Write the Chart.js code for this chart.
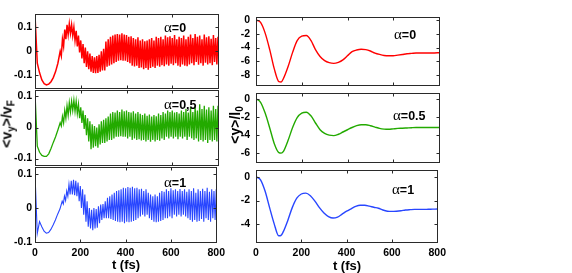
<!DOCTYPE html>
<html><head><meta charset="utf-8">
<script src="https://cdn.jsdelivr.net/npm/chart.js@4.4.1/dist/chart.umd.min.js"></script>
<style>
body{margin:0;background:#fff;width:572px;height:273px;overflow:hidden;position:relative;font-family:'Liberation Sans',Arial,sans-serif}
canvas{position:absolute}
.t{position:absolute;font-weight:bold;white-space:nowrap;line-height:1;color:#000;transform:translate(-50%,-50%)}
.rot{transform:translate(-50%,-50%) rotate(-90deg)}
.rot sub{font-size:10px;vertical-align:-3px}
.lab{position:absolute;white-space:nowrap;line-height:1;color:#000;font-weight:bold;font-size:12.5px;transform:translateY(-50%)}
.al{font-family:'Liberation Serif','DejaVu Serif',serif;font-weight:normal;font-size:15px}
</style></head><body>
<canvas id="lt" width="230" height="92" style="left:0;top:5px"></canvas>
<canvas id="lm" width="230" height="93" style="left:0;top:81px"></canvas>
<canvas id="lb" width="230" height="108" style="left:0;top:158px"></canvas>
<canvas id="rt" width="231" height="92" style="left:220px;top:5px"></canvas>
<canvas id="rm" width="231" height="93" style="left:220px;top:81px"></canvas>
<canvas id="rb" width="231" height="108" style="left:220px;top:158px"></canvas>

<div class="t rot" style="left:8px;top:124px;font-size:14px">&lt;v<sub>y</sub>&gt;/v<sub>F</sub></div>
<div class="t rot" style="left:236px;top:125px;font-size:14px">&lt;y&gt;/l<sub>0</sub></div>
<div class="t" style="left:126px;top:264px;font-size:13px">t (fs)</div>
<div class="t" style="left:347px;top:265px;font-size:13px">t (fs)</div>

<div class="lab" style="left:164px;top:27px"><span class="al">α</span>=0</div>
<div class="lab" style="left:164px;top:104px"><span class="al">α</span>=0,5</div>
<div class="lab" style="left:164px;top:182px"><span class="al">α</span>=1</div>
<div class="lab" style="left:394px;top:34px"><span class="al">α</span>=0</div>
<div class="lab" style="left:393px;top:115px"><span class="al">α</span>=0.5</div>
<div class="lab" style="left:392px;top:189px"><span class="al">α</span>=1</div>

<script>
// ---- categories / tick labels ----
const tBand = Array.from({length: 81}, (_, i) => i * 10);
const tSmooth = [0,20,40,60,80,100,110,120,140,160,180,200,220,240,260,280,300,320,340,360,380,400,420,440,460,480,500,520,540,560,580,600,620,640,660,680,700,720,740,760,780,800];
const xTicks = [0,200,400,600,800];
const yTicksLeft = [-0.1,0,0.1];
const yTicksRT = [-8,-6,-4,-2,0];
const yTicksRM = [-6,-4,-2,0];
const yTicksRB = [-4,-2,0];

// ---- <v_y>/v_F : upper / lower envelope of the fast oscillation (every 10 fs) ----
const vA0up = [0.15,-0.05,-0.09,-0.12,-0.135,-0.14,-0.137,-0.127,-0.11,-0.085,-0.05,0.0,0.05,0.09,0.11,0.115,0.11,0.10,0.085,0.065,
0.045,0.03,0.015,0.0,-0.01,-0.02,-0.025,-0.02,-0.015,0.0,0.01,0.04,0.05,0.06,0.065,0.07,0.072,0.07,0.075,0.07,
0.068,0.06,0.062,0.055,0.05,0.058,0.045,0.05,0.042,0.045,0.05,0.055,0.045,0.06,0.055,0.06,0.05,0.065,0.058,0.062,
0.055,0.068,0.05,0.06,0.055,0.065,0.05,0.06,0.07,0.055,0.072,0.06,0.065,0.05,0.07,0.058,0.062,0.052,0.068,0.055,0.06];
const vA0lo = [0.15,-0.05,-0.09,-0.12,-0.135,-0.14,-0.137,-0.127,-0.11,-0.085,-0.05,-0.02,0.02,0.05,0.07,0.075,0.065,0.045,0.02,-0.005,
-0.03,-0.05,-0.065,-0.075,-0.085,-0.09,-0.092,-0.09,-0.085,-0.08,-0.08,-0.065,-0.06,-0.055,-0.05,-0.045,-0.04,-0.037,-0.04,-0.04,
-0.045,-0.05,-0.06,-0.063,-0.06,-0.07,-0.068,-0.075,-0.07,-0.077,-0.07,-0.065,-0.07,-0.06,-0.065,-0.058,-0.062,-0.055,-0.06,-0.052,
-0.058,-0.05,-0.06,-0.065,-0.055,-0.06,-0.062,-0.055,-0.05,-0.058,-0.045,-0.056,-0.05,-0.06,-0.048,-0.055,-0.05,-0.058,-0.045,-0.055,-0.05];

const vA05up = [0.11,-0.06,-0.08,-0.09,-0.093,-0.093,-0.085,-0.068,-0.048,-0.03,-0.008,0.015,0.035,0.055,0.07,0.08,0.085,0.088,0.085,0.075,
0.065,0.055,0.04,0.03,0.02,0.01,0.005,0.0,0.01,0.02,0.025,0.03,0.035,0.045,0.05,0.048,0.055,0.05,0.058,0.052,
0.055,0.05,0.048,0.052,0.045,0.05,0.044,0.04,0.045,0.038,0.042,0.035,0.04,0.036,0.045,0.04,0.05,0.045,0.055,0.05,
0.055,0.048,0.05,0.045,0.055,0.05,0.06,0.048,0.065,0.05,0.07,0.055,0.075,0.06,0.07,0.058,0.065,0.055,0.07,0.06,0.07];
const vA05lo = [0.11,-0.06,-0.08,-0.09,-0.093,-0.093,-0.085,-0.068,-0.048,-0.03,-0.008,0.005,0.015,0.03,0.04,0.05,0.055,0.052,0.045,0.03,
0.015,-0.005,-0.025,-0.045,-0.07,-0.065,-0.06,-0.065,-0.055,-0.05,-0.05,-0.045,-0.04,-0.04,-0.035,-0.03,-0.03,-0.028,-0.03,-0.03,
-0.035,-0.03,-0.04,-0.035,-0.04,-0.038,-0.042,-0.04,-0.045,-0.04,-0.046,-0.04,-0.045,-0.04,-0.043,-0.035,-0.04,-0.03,-0.035,-0.03,
-0.035,-0.03,-0.038,-0.03,-0.035,-0.03,-0.04,-0.03,-0.035,-0.04,-0.035,-0.045,-0.04,-0.045,-0.04,-0.05,-0.04,-0.045,-0.04,-0.045,-0.04];

const vA1up = [0.1,-0.075,-0.04,-0.055,-0.068,-0.074,-0.072,-0.063,-0.05,-0.035,-0.018,-0.003,0.02,0.035,0.05,0.07,0.08,0.083,0.08,0.075,
0.065,0.055,0.04,0.02,0.0,-0.005,0.0,-0.003,0.005,0.01,0.012,0.02,0.03,0.035,0.04,0.045,0.05,0.052,0.055,0.06,
0.058,0.062,0.06,0.063,0.058,0.06,0.055,0.057,0.05,0.055,0.045,0.04,0.035,0.04,0.035,0.045,0.05,0.048,0.055,0.05,
0.058,0.052,0.055,0.05,0.056,0.05,0.055,0.048,0.055,0.05,0.058,0.045,0.055,0.05,0.057,0.05,0.06,0.048,0.055,0.05,0.055];
const vA1lo = [0.1,-0.075,-0.04,-0.055,-0.068,-0.074,-0.072,-0.063,-0.05,-0.035,-0.018,-0.003,0.012,0.022,0.035,0.04,0.04,0.038,0.035,0.02,
0.0,-0.02,-0.04,-0.055,-0.06,-0.065,-0.06,-0.058,-0.045,-0.035,-0.03,-0.03,-0.03,-0.032,-0.035,-0.038,-0.04,-0.042,-0.04,-0.045,
-0.04,-0.042,-0.04,-0.038,-0.035,-0.03,-0.025,-0.02,-0.025,-0.02,-0.03,-0.035,-0.04,-0.042,-0.04,-0.038,-0.035,-0.03,-0.03,-0.025,
-0.03,-0.02,-0.025,-0.02,-0.025,-0.02,-0.025,-0.03,-0.035,-0.04,-0.035,-0.04,-0.038,-0.032,-0.04,-0.03,-0.035,-0.04,-0.03,-0.035,-0.03];

// ---- <y>/l_0 ----
const yA0 = [0,-0.35,-1.9,-4.3,-7.1,-8.95,-9.0,-8.5,-6.8,-4.7,-3.0,-2.35,-2.25,-2.95,-4.3,-5.3,-5.9,-6.2,-6.3,-6.15,-5.8,-5.2,-4.6,-4.35,-4.25,-4.3,-4.5,-4.8,-5.0,-5.15,-5.2,-5.2,-5.1,-5.0,-4.9,-4.85,-4.8,-4.8,-4.8,-4.8,-4.78,-4.75];
const yA05 = [0,-0.4,-1.6,-3.25,-5.0,-6.0,-6.05,-5.85,-4.65,-3.2,-2.1,-1.6,-1.5,-1.9,-2.7,-3.45,-3.85,-4.05,-4.1,-3.95,-3.7,-3.45,-3.2,-3.0,-2.9,-2.9,-3.0,-3.15,-3.3,-3.38,-3.4,-3.35,-3.3,-3.28,-3.25,-3.22,-3.2,-3.2,-3.2,-3.2,-3.2,-3.2];
const yA1 = [0,-0.25,-1.2,-2.6,-3.95,-4.97,-4.95,-4.65,-3.7,-2.6,-1.8,-1.45,-1.38,-1.6,-2.05,-2.6,-3.05,-3.35,-3.48,-3.4,-3.15,-2.9,-2.7,-2.5,-2.4,-2.4,-2.47,-2.57,-2.65,-2.8,-2.9,-2.92,-2.9,-2.86,-2.8,-2.77,-2.75,-2.75,-2.75,-2.74,-2.73,-2.72];

const RED = 'rgb(255,0,0)', GREEN = 'rgb(35,170,0)', BLUE = 'rgb(40,70,255)';
const FONT = "'Liberation Sans', Arial, sans-serif";

function band(up, lo) {
  const pts = [];
  tBand.forEach((t, i) => {
    pts.push({x: t, y: up[i]});
    if (up[i] !== lo[i]) pts.push({x: t + 5, y: lo[i]});
  });
  return pts;
}
function smooth(vals) { return tSmooth.map((t, i) => ({x: t, y: vals[i]})); }

const framePlugin = {
  id: 'frame',
  afterDatasetsDraw(chart) {
    const {ctx, chartArea: a, scales: {x, y}} = chart;
    ctx.save();
    ctx.strokeStyle = '#2a2a2a';
    ctx.lineWidth = 1;
    const L = Math.round(a.left) + 0.5, R = Math.round(a.right) + 0.5;
    const T = Math.round(a.top) + 0.5, B = Math.round(a.bottom) + 0.5;
    ctx.strokeRect(L, T, R - L, B - T);
    ctx.beginPath();
    x.ticks.forEach(tk => {
      const px = Math.round(x.getPixelForValue(tk.value)) + 0.5;
      ctx.moveTo(px, B); ctx.lineTo(px, B - 3);
      ctx.moveTo(px, T); ctx.lineTo(px, T + 3);
    });
    y.ticks.forEach(tk => {
      const py = Math.round(y.getPixelForValue(tk.value)) + 0.5;
      ctx.moveTo(L, py); ctx.lineTo(L + 3, py);
      ctx.moveTo(R, py); ctx.lineTo(R - 3, py);
    });
    ctx.stroke();
    ctx.restore();
  }
};

function make(id, data, color, width, isBand, yMin, yMax, yTicks, yW, yPad, bottomRow) {
  new Chart(document.getElementById(id), {
    type: 'line',
    data: { datasets: [{ data, borderColor: color, borderWidth: width, pointRadius: 0,
      tension: isBand ? 0 : 0.4, cubicInterpolationMode: isBand ? 'default' : 'monotone', fill: false }] },
    options: {
      responsive: false, animation: false, events: [],
      layout: { padding: { left: 0, right: 12, top: 8, bottom: bottomRow ? 0 : 8 } },
      plugins: { legend: { display: false }, tooltip: { enabled: false } },
      scales: {
        x: { type: 'linear', min: 0, max: 800,
          grid: { display: false, drawTicks: false }, border: { display: false },
          afterBuildTicks: s => { s.ticks = xTicks.map(v => ({value: v})); },
          afterFit: s => { s.height = bottomRow ? 24 : 0; },
          ticks: { display: bottomRow, color: '#000', padding: 5, maxRotation: 0,
            font: { family: FONT, size: 10.5, weight: 'bold' }, callback: v => String(v) } },
        y: { type: 'linear', min: yMin, max: yMax,
          grid: { display: false, drawTicks: false }, border: { display: false },
          afterBuildTicks: s => { s.ticks = yTicks.map(v => ({value: v})); },
          afterFit: s => { s.width = yW; },
          ticks: { color: '#000', padding: yPad,
            font: { family: FONT, size: 10.5, weight: 'bold' }, callback: v => String(v) } }
      }
    },
    plugins: [framePlugin]
  });
}

make('lt', band(vA0up, vA0lo), RED, 1.5, true, -0.152, 0.154, yTicksLeft, 35, 3, false);
make('lm', band(vA05up, vA05lo), GREEN, 1.3, true, -0.12, 0.12, yTicksLeft, 35, 3, false);
make('lb', band(vA1up, vA1lo), BLUE, 1.1, true, -0.1, 0.12, yTicksLeft, 35, 3, true);
make('rt', smooth(yA0), RED, 1.4, false, -9.4, 0.4, yTicksRT, 36, 6, false);
make('rm', smooth(yA05), GREEN, 1.4, false, -7, 0.6, yTicksRM, 36, 6, false);
make('rb', smooth(yA1), BLUE, 1.4, false, -5.5, 0.55, yTicksRB, 36, 6, true);
</script>
</body></html>
